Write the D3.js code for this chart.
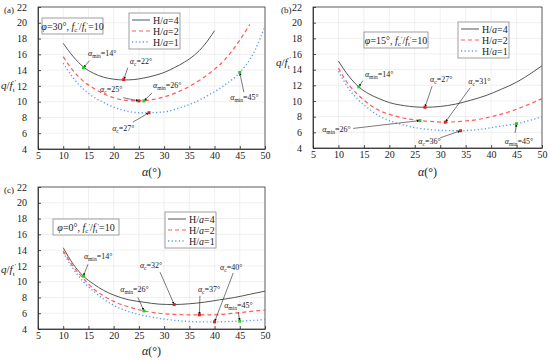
<!DOCTYPE html>
<html>
<head>
<meta charset="utf-8">
<style>
body { margin:0; background:#fff; }
svg { font-family: "Liberation Serif", "Times New Roman", serif; }
.axis { font-family: "Liberation Serif", "Times New Roman", serif; }
.axis path, .axis line { stroke:#222; stroke-width:0.8; }
.axis text { font-size:10px; fill:#222; }
.grid line { stroke:#e6e6e6; stroke-width:0.6; }
</style>
</head>
<body>
<svg id="svg" width="550" height="361"></svg>
<script src="https://cdnjs.cloudflare.com/ajax/libs/d3/7.8.5/d3.min.js"></script>
<script>
// ---- data ----
// panel (a) phi=30
var aAlpha4 = [10,12,14,16,18,20,22,24,26,28,30,32,34,36,38,40]
var aQ4     = [17.4,15.7,14.4,13.6,13.1,12.85,12.75,12.8,13.0,13.3,13.7,14.3,15.0,15.9,17.2,19.0]
var aAlpha2 = [10,12,14,16,18,20,22,25,28,30,33,36,39,42,45,47]
var aQ2     = [15.7,13.9,12.6,11.7,11.0,10.5,10.2,10.1,10.3,10.6,11.3,12.3,13.6,15.3,17.8,19.8]
var aAlpha1 = [10,12,14,16,18,20,22,25,27,30,33,36,39,42,45,48,50]
var aQ1     = [14.9,13.0,11.6,10.6,9.9,9.3,8.9,8.6,8.6,8.7,9.2,9.9,10.9,12.1,13.7,16.5,19.6]
// panel (b) phi=15
var bAlpha4 = [10,12,14,16,18,20,23,27,30,33,36,39,42,45,48,50]
var bQ4     = [15.1,13.2,11.8,10.9,10.3,9.8,9.4,9.2,9.3,9.6,10.1,10.7,11.5,12.4,13.6,14.5]
var bAlpha2 = [10,12,14,16,18,20,23,26,29,31,34,37,40,43,46,50]
var bQ2     = [14.2,12.1,10.7,9.6,8.8,8.3,7.8,7.5,7.35,7.3,7.4,7.6,8.0,8.5,9.2,10.3]
var bAlpha1 = [10,12,14,16,18,20,23,26,30,34,38,42,45,48,50]
var bQ1     = [13.8,11.6,10.1,9.0,8.1,7.5,6.9,6.5,6.25,6.2,6.4,6.8,7.1,7.6,8.0]
// panel (c) phi=0
var cAlpha4 = [10,12,14,16,18,20,23,26,29,32,35,38,41,44,47,50]
var cQ4     = [14.3,12.2,10.7,9.7,8.9,8.3,7.7,7.4,7.15,7.1,7.2,7.4,7.7,8.0,8.4,8.8]
var cAlpha2 = [10,12,14,16,18,20,23,26,29,32,35,37,40,43,46,50]
var cQ2     = [13.9,11.9,10.4,9.1,8.2,7.5,6.8,6.3,6.0,5.85,5.8,5.8,5.8,5.95,6.15,6.4]
var cAlpha1 = [10,12,14,16,18,20,23,26,29,32,35,38,40,43,45,48,50]
var cQ1     = [13.7,11.6,10.0,8.8,7.8,7.0,6.2,5.7,5.35,5.1,4.95,4.9,4.9,4.95,5.0,5.1,5.2]

// marked points: [alpha, q, kind, label value]
var aMarks = [[14,14.3,'min','14'],[22,12.8,'c','22'],[25,10.1,'c','25'],[26,10.1,'min','26'],[27,8.6,'c','27'],[45,13.7,'min','45']]
var bMarks = [[14,11.8,'min','14'],[27,9.2,'c','27'],[31,7.3,'c','31'],[26,7.5,'min','26'],[34,6.2,'c','36'],[45,7.1,'min','45']]
var cMarks = [[14,10.7,'min','14'],[32,7.1,'c','32'],[26,6.3,'min','26'],[37,5.8,'c','37'],[40,4.9,'c','40'],[45,5.0,'min','45']]

var xTicks = [5,10,15,20,25,30,35,40,45,50]
var yTicks = [4,6,8,10,12,14,16,18,20,22]
var seriesNames = ['4','2','1']

// ---- layout (label text start and arrow tail in data units) ----
var aLabelPos = [[14.9,15.8,15.2,15.2],[23.2,14.8,22.8,14.3],[17.3,11.2,21.9,10.5],[27.8,11.7,27.6,11.1],[19.7,6.3,23.8,7.4],[43.1,10.2,45.8,11.2]]
var bLabelPos = [[15.2,13.1,14.8,12.6],[28.0,12.4,28.4,11.9],[35.5,12.2,35.9,11.7],[6.8,6.0,12.9,6.5],[25.7,4.5,30.0,5.3],[42.7,4.5,44.7,5.9]]
var cLabelPos = [[14.1,12.9,14.9,12.2],[25.2,11.7,29.2,11.2],[21.3,8.7,24.8,8.0],[36.7,8.7,37.1,8.2],[41.1,11.5,43.7,11.1],[41.9,6.6,44.7,6.1]]

var styles = [
  {color:'#555555', dash:null, width:1.0},
  {color:'#ff5a5a', dash:'4,3', width:1.2},
  {color:'#5b9bf0', dash:'1.2,2.4', width:1.4}
]

var svg = d3.select('#svg')
var defs = svg.append('defs')
defs.append('marker').attr('id','arr')
  .attr('viewBox','0 0 10 10').attr('refX',10).attr('refY',5)
  .attr('markerWidth',5).attr('markerHeight',5).attr('orient','auto')
  .append('path').attr('d','M0,1 L10,5 L0,9 z').attr('fill','#000')

function drawPanel(p) {
  var x = d3.scaleLinear().domain([5,50]).range([p.left,p.right])
  var y = d3.scaleLinear().domain([4,22]).range([p.bottom,p.top])
  var g = svg.append('g')

  // grid
  var grid = g.append('g').attr('class','grid')
  grid.selectAll('.gx').data(xTicks.slice(1,-1)).enter().append('line')
    .attr('x1',d=>x(d)).attr('x2',d=>x(d)).attr('y1',p.top).attr('y2',p.bottom)
  grid.selectAll('.gy').data(yTicks.slice(1,-1)).enter().append('line')
    .attr('y1',d=>y(d)).attr('y2',d=>y(d)).attr('x1',p.left).attr('x2',p.right)

  g.append('g').attr('class','axis').attr('transform','translate(0,'+p.bottom+')')
    .call(d3.axisBottom(x).tickValues(xTicks).tickSizeInner(-3).tickSizeOuter(0).tickPadding(3))
  g.append('g').attr('class','axis').attr('transform','translate('+p.left+',0)')
    .call(d3.axisLeft(y).tickValues(yTicks).tickSizeInner(-3).tickSizeOuter(0).tickPadding(11))
  g.append('rect').attr('x',p.left).attr('y',p.top).attr('width',p.right-p.left).attr('height',p.bottom-p.top)
    .attr('fill','none').attr('stroke','#333').attr('stroke-width',0.8)

  var line = d3.line().x(d=>x(d[0])).y(d=>y(d[1])).curve(d3.curveMonotoneX)
  p.series.forEach(function(s,i){
    var pts = s[0].map((a,j)=>[a,s[1][j]])
    g.append('path').attr('d',line(pts)).attr('fill','none')
      .attr('stroke',styles[i].color).attr('stroke-width',styles[i].width)
      .attr('stroke-dasharray',styles[i].dash)
  })

  // annotations
  p.marks.forEach(function(m,i){
    var lp = p.labels[i]
    g.append('line').attr('x1',x(lp[2])).attr('y1',y(lp[3])).attr('x2',x(m[0])).attr('y2',y(m[1]))
      .attr('stroke','#222').attr('stroke-width',0.6).attr('marker-end','url(#arr)')
    g.append('rect').attr('x',x(m[0])-1.5).attr('y',y(m[1])-1.5).attr('width',3).attr('height',3)
      .attr('fill', m[2]=='min' ? '#22cc22' : '#dd2222')
    var t = g.append('text').attr('x',x(lp[0])).attr('y',y(lp[1])).attr('font-size',8).attr('fill','#222')
    t.append('tspan').attr('font-style','italic').text('α')
    t.append('tspan').attr('font-size',5.5).attr('dy',2).text(m[2])
    t.append('tspan').attr('dy',-2).text('='+m[3]+'°')
  })

  // legend
  var lg = g.append('g')
  lg.append('rect').attr('x',p.leg[0]).attr('y',p.leg[1]).attr('width',51).attr('height',36)
    .attr('fill','#fff').attr('stroke','#888').attr('stroke-width',0.8)
  seriesNames.forEach(function(n,i){
    var ry = p.leg[1]+7+i*11
    lg.append('line').attr('x1',p.leg[0]+3).attr('x2',p.leg[0]+21).attr('y1',ry).attr('y2',ry)
      .attr('stroke',styles[i].color).attr('stroke-width',styles[i].width).attr('stroke-dasharray',styles[i].dash)
    var t = lg.append('text').attr('x',p.leg[0]+24).attr('y',ry+3.5).attr('font-size',10).attr('fill','#222')
    t.append('tspan').text('H/')
    t.append('tspan').attr('font-style','italic').text('a')
    t.append('tspan').text('='+n)
  })

  // condition box
  var cb = g.append('g')
  cb.append('rect').attr('x',p.box[0]).attr('y',p.box[1]).attr('width',p.box[2]).attr('height',16)
    .attr('fill','#fff').attr('stroke','#888').attr('stroke-width',0.8)
  var ct = cb.append('text').attr('x',p.box[0]+p.box[2]/2).attr('y',p.box[1]+11.5)
    .attr('text-anchor','middle').attr('font-size',10).attr('fill','#222')
  ct.append('tspan').attr('font-style','italic').text('φ')
  ct.append('tspan').text('='+p.phi+'°, ')
  ct.append('tspan').attr('font-style','italic').text('f')
  ct.append('tspan').attr('font-size',7).attr('dy',2).text('c')
  ct.append('tspan').attr('font-size',7).attr('dy',-5).text('′')
  ct.append('tspan').attr('dy',3).text('/')
  ct.append('tspan').attr('font-style','italic').text('f')
  ct.append('tspan').attr('font-size',7).attr('dy',2).text('t')
  ct.append('tspan').attr('font-size',7).attr('dy',-5).text('′')
  ct.append('tspan').attr('dy',3).text('=10')

  // axis titles
  var xt = g.append('text').attr('x',(p.left+p.right)/2).attr('y',p.xlab).attr('text-anchor','middle')
    .attr('font-size',12).attr('fill','#222')
  xt.append('tspan').attr('font-style','italic').text('α')
  xt.append('tspan').text('(°)')
  var yt = g.append('text').attr('x',p.ylab[0]).attr('y',p.ylab[1]).attr('font-size',11).attr('fill','#222')
  yt.append('tspan').attr('font-style','italic').text('q')
  yt.append('tspan').text('/')
  yt.append('tspan').attr('font-style','italic').text('f')
  yt.append('tspan').attr('font-size',7).attr('dy',3).text('t')
  yt.append('tspan').attr('font-size',7).attr('dy',-8).text('′')

  g.append('text').attr('x',p.tag[0]).attr('y',p.tag[1]).attr('font-size',9).attr('fill','#222').text(p.name)
}

drawPanel({name:'(a)', tag:[4,13], phi:'30', left:38, right:265, top:7, bottom:149,
  series:[[aAlpha4,aQ4],[aAlpha2,aQ2],[aAlpha1,aQ1]], marks:aMarks, labels:aLabelPos,
  leg:[129,13], box:[42,18,61], xlab:176, ylab:[1,89]})
drawPanel({name:'(b)', tag:[281,13], phi:'15', left:313, right:542, top:7, bottom:148,
  series:[[bAlpha4,bQ4],[bAlpha2,bQ2],[bAlpha1,bQ1]], marks:bMarks, labels:bLabelPos,
  leg:[458,22], box:[364,32,64], xlab:176, ylab:[276,66]})
drawPanel({name:'(c)', tag:[4,193], phi:'0', left:38, right:265, top:187, bottom:329,
  series:[[cAlpha4,cQ4],[cAlpha2,cQ2],[cAlpha1,cQ1]], marks:cMarks, labels:cLabelPos,
  leg:[165,212], box:[53,219,66], xlab:355, ylab:[1,273]})
</script>
</body>
</html>
